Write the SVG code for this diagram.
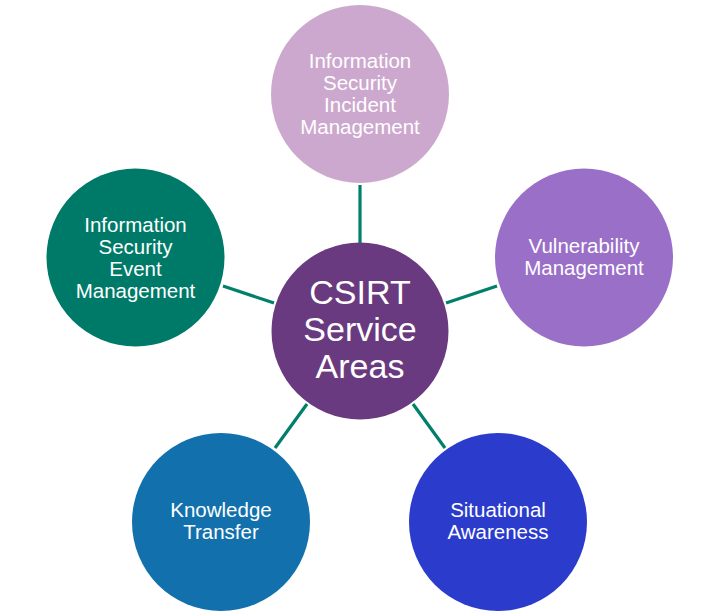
<svg xmlns="http://www.w3.org/2000/svg" width="705" height="615" viewBox="0 0 705 615">
<style>
.lbl{font-family:"Liberation Sans",Arial,sans-serif;font-size:20.5px;fill:#ffffff;text-anchor:middle}
.big{font-family:"Liberation Sans",Arial,sans-serif;font-size:34px;fill:#ffffff;text-anchor:middle}
.conn line{stroke:#007F6B;stroke-width:3.2}
</style>
<rect width="705" height="615" fill="#ffffff"/>
<g id="connectors" class="conn">
<line x1="360" y1="185" x2="360" y2="244"/>
<line x1="223" y1="286" x2="274" y2="303"/>
<line x1="446" y1="303" x2="497" y2="286"/>
<line x1="275" y1="448" x2="307" y2="404"/>
<line x1="413" y1="404" x2="445" y2="448"/>
</g>
<g id="center">
<circle cx="360" cy="331" r="88.5" fill="#6A3A80"/>
<text class="big" x="360" y="304">CSIRT</text>
<text class="big" x="360" y="341">Service</text>
<text class="big" x="360" y="378">Areas</text>
</g>
<g id="incident">
<circle cx="360" cy="94" r="89" fill="#CDA8CE"/>
<text class="lbl" x="360" y="68">Information</text>
<text class="lbl" x="360" y="90">Security</text>
<text class="lbl" x="360" y="112">Incident</text>
<text class="lbl" x="360" y="134">Management</text>
</g>
<g id="event">
<circle cx="135.5" cy="257.5" r="89" fill="#007A68"/>
<text class="lbl" x="135.5" y="232">Information</text>
<text class="lbl" x="135.5" y="254">Security</text>
<text class="lbl" x="135.5" y="276">Event</text>
<text class="lbl" x="135.5" y="298">Management</text>
</g>
<g id="vulnerability">
<circle cx="584" cy="257.5" r="89" fill="#9A6FC8"/>
<text class="lbl" x="584" y="253">Vulnerability</text>
<text class="lbl" x="584" y="275">Management</text>
</g>
<g id="knowledge">
<circle cx="221" cy="522" r="89" fill="#1271AD"/>
<text class="lbl" x="221" y="517">Knowledge</text>
<text class="lbl" x="221" y="539">Transfer</text>
</g>
<g id="situational">
<circle cx="498" cy="522" r="89" fill="#2B3BCC"/>
<text class="lbl" x="498" y="517">Situational</text>
<text class="lbl" x="498" y="539">Awareness</text>
</g>
</svg>
